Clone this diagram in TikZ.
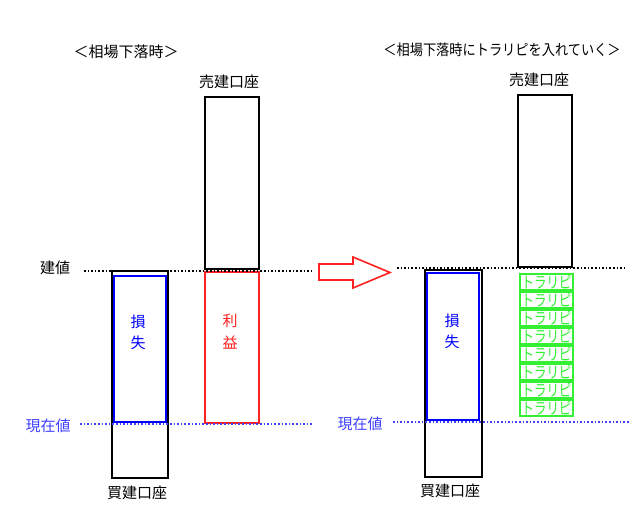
\documentclass[tikz,border=0pt]{standalone}
\usepackage{fontspec}
\setmainfont{Noto Sans CJK JP}
\begin{document}
\begin{tikzpicture}[x=1pt,y=-1pt,
  box/.style={draw=#1,line width=2pt,fill=none,rectangle,inner sep=0pt},
  lbl/.style={font=\fontsize{15}{15}\selectfont,inner sep=0pt,anchor=center},
  tp/.style={box=tpgreen,minimum width=53pt,minimum height=16pt,
     text=tpgreen,font=\fontsize{16}{16}\selectfont},
  dotline/.style={line width=1.6pt,dash pattern=on 1.6pt off 2pt}]
\definecolor{tpgreen}{RGB}{51,240,51}
\definecolor{curblue}{RGB}{64,64,255}
\definecolor{myred}{RGB}{255,32,32}
\useasboundingbox (0,0) rectangle (640,522);
\fill[white] (0,0) rectangle (640,522);
% ---------- left ----------
\node[lbl] (titleL) at (126,52) {＜相場下落時＞};
\node[lbl] (sellLlbl) at (229,82) {売建口座};
\node[box=black,minimum width=54pt,minimum height=172pt] (sellL) at (232,183) {};
\node[box=black,minimum width=56pt,minimum height=207pt] (buyL) at (140,374.5) {};
\node[box=blue,minimum width=52pt,minimum height=146pt] (lossL) at (140,349) {};
\node[box=myred,minimum width=54pt,minimum height=151pt] (profL) at (232,347.5) {};
\node[lbl,text=blue] (sonL) at (138,322) {損};
\node[lbl,text=blue] (shitsuL) at (138,343) {失};
\node[lbl,text=myred] (riL) at (230,321) {利};
\node[lbl,text=myred] (ekiL) at (230,343) {益};
\node[lbl] (tateL) at (55,268) {建値};
\node[lbl,text=curblue] (genL) at (48,426) {現在値};
\node[lbl] (buyLlbl) at (137,493) {買建口座};
\coordinate (tl1) at (84,271); \coordinate (tl2) at (313,271);
\coordinate (gl1) at (80,424); \coordinate (gl2) at (313,424);
\draw[dotline,black] (tl1) -- (tl2);
\draw[dotline,curblue] (gl1) -- (gl2);
% ---------- arrow ----------
\coordinate (a1) at (319,264); \coordinate (a2) at (353,264);
\coordinate (a3) at (353,257); \coordinate (a4) at (390,272.5);
\coordinate (a5) at (353,288); \coordinate (a6) at (353,280);
\coordinate (a7) at (319,280);
\draw[myred,line width=1.6pt,fill=white,line join=miter]
  (a1) -- (a2) -- (a3) -- (a4) -- (a5) -- (a6) -- (a7) -- cycle;
% ---------- right ----------
\node[lbl] (titleR) at (502,50) {\scalebox{0.88}[1]{＜相場下落時にトラリピを入れていく＞}};
\node[lbl] (sellRlbl) at (539,80) {売建口座};
\node[box=black,minimum width=54pt,minimum height=172pt] (sellR) at (545,181) {};
\node[box=black,minimum width=57pt,minimum height=207pt] (buyR) at (453.5,373.5) {};
\node[box=blue,minimum width=52pt,minimum height=147pt] (lossR) at (453,346.5) {};
\node[lbl,text=blue] (sonR) at (452,321) {損};
\node[lbl,text=blue] (shitsuR) at (452,342) {失};
\node[lbl,text=curblue] (genR) at (360,424) {現在値};
\node[lbl] (buyRlbl) at (450,491) {買建口座};
\foreach \i in {0,...,7}{
  \node[tp] (tp\i) at (546.5,282+18*\i) {\scalebox{0.78}[1]{トラリピ}};
}
\coordinate (tr1) at (397,268); \coordinate (tr2) at (626,268);
\coordinate (gr1) at (393,422); \coordinate (gr2) at (630,422);
\draw[dotline,black] (tr1) -- (tr2);
\draw[dotline,curblue] (gr1) -- (gr2);
\end{tikzpicture}
\end{document}
